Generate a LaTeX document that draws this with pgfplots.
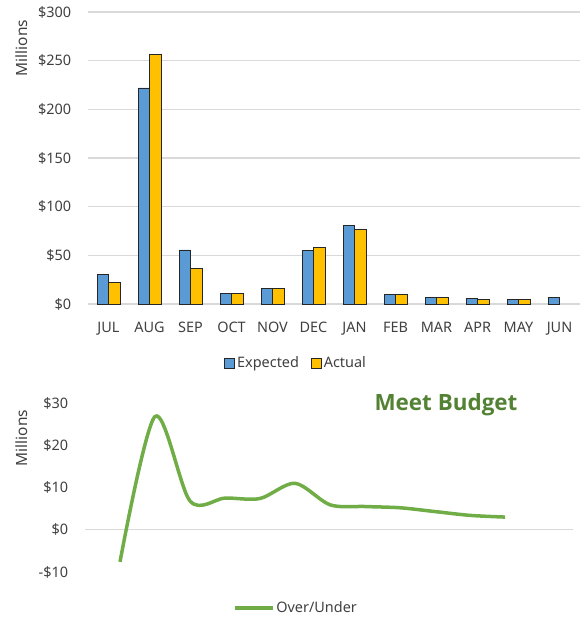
\documentclass[border=0pt]{standalone}
\usepackage{pgfplots}
\pgfplotsset{compat=1.18}
\usepackage{fontspec}
\setmainfont{Noto Sans}
\newfontfamily\titlefont{Open Sans}
\definecolor{cblue}{HTML}{5B9BD5}
\definecolor{cgold}{HTML}{FFC000}
\definecolor{cgreen}{HTML}{70AD47}
\definecolor{dgreen}{HTML}{548235}
\definecolor{tgray}{HTML}{404040}
\definecolor{ggray}{HTML}{D9D9D9}
\begin{document}
\fontsize{14}{16}\selectfont
\begin{tikzpicture}[x=1bp,y=1bp]
\path[use as bounding box] (0,0) rectangle (581,619);
% top bar chart
\begin{axis}[
  at={(88bp,315bp)}, anchor=south west,
  scale only axis, width=492bp, height=292bp,
  xmin=-0.5, xmax=11.5, ymin=0, ymax=300,
  axis line style={draw=none},
  tick style={draw=none},
  xtick={0,...,11},
  xticklabels={JUL,AUG,SEP,OCT,NOV,DEC,JAN,FEB,MAR,APR,MAY,JUN},
  ytick={0,50,...,300},
  yticklabels={\$0,\$50,\$100,\$150,\$200,\$250,\$300},
  ymajorgrids, grid style={ggray, line width=1.2bp},
  ticklabel style={text=tgray, font=\fontsize{14.5}{16}\selectfont},
  xticklabel style={yshift=-9bp},
  yticklabel style={xshift=-12bp},
  ybar, bar width=0.28,
  clip=false,
  legend columns=2,
  legend style={at={(0.423,-0.202)}, anchor=center, draw=none, fill=none,
    font=\fontsize{14.5}{16}\selectfont, text=tgray,
    /tikz/every even column/.append style={column sep=10bp}},
  legend image code/.code={\draw[#1, line width=0.8bp] (0bp,-5bp) rectangle (10bp,5bp);},
]
\addplot[fill=cblue, draw=black!85, line width=0.8bp, bar shift=-0.14]
  coordinates {(0,30.5) (1,222) (2,55.5) (3,11) (4,16) (5,55) (6,81) (7,10) (8,7) (9,6) (10,5) (11,7)};
\addplot[fill=cgold, draw=black!85, line width=0.8bp, bar shift=0.14]
  coordinates {(0,22.5) (1,256) (2,36.5) (3,11) (4,16) (5,58.5) (6,76.5) (7,9.5) (8,6.5) (9,5) (10,4.5)};
\legend{Expected,Actual}
\end{axis}
% bottom line chart
\begin{axis}[
  at={(85bp,47bp)}, anchor=south west,
  scale only axis, width=488bp, height=169bp,
  xmin=-1, xmax=12.94, ymin=-10, ymax=30,
  axis line style={draw=none},
  tick style={draw=none},
  xtick=\empty,
  ytick={-10,0,10,20,30},
  yticklabels={-\$10,\$0,\$10,\$20,\$30},
  ticklabel style={text=tgray, font=\fontsize{14.5}{16}\selectfont},
  yticklabel style={xshift=-12bp},
  clip=false,
  legend style={at={(0.432,-0.213)}, anchor=center, draw=none, fill=none,
    font=\fontsize{14.5}{16}\selectfont, text=tgray},
  legend image code/.code={\draw[#1] (0bp,0bp) -- (38bp,0bp);},
]
\draw[ggray, line width=1.2bp] (axis cs:-1,0) -- (axis cs:12.94,0);
\addplot[cgreen, line width=3.5bp, smooth, tension=0.5]
  coordinates {(0,-7.6) (1,26.8) (2,6.8) (3,7.5) (4,7.4) (5,11.0) (6,5.9) (7,5.5) (8,5.2) (9,4.3) (10,3.4) (11,3.0)};
\legend{Over/Under}
\end{axis}
\node[rotate=90, text=tgray, font=\fontsize{15.5}{18}\selectfont] at (22,571) {Millions};
\node[rotate=90, text=tgray, font=\fontsize{15.5}{18}\selectfont] at (22,181) {Millions};
\node[text=dgreen, font=\titlefont\bfseries\fontsize{22.5}{26}\selectfont] at (446,214) {Meet Budget};
\end{tikzpicture}
\end{document}
